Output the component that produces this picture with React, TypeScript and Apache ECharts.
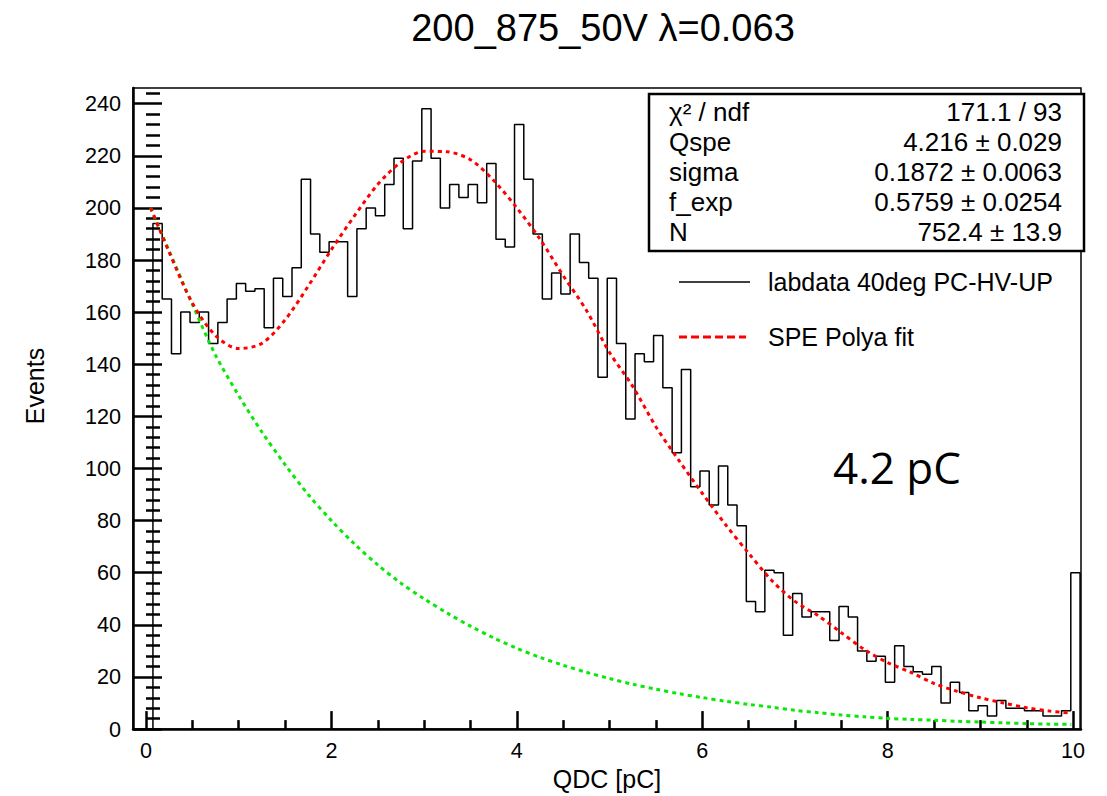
import { useEffect, useRef } from "react";
import * as echarts from "echarts";

// ---- data ----
const TITLE = "200_875_50V λ=0.063";
const X_TITLE = "QDC [pC]";
const Y_TITLE = "Events";
const NOTE = "4.2 pC";

// histogram binning (pC)
const BIN_START = 0.075;
const BIN_WIDTH = 0.1;
const COUNTS = [
  194, 165, 144, 160, 156, 160, 148, 156, 165, 171,
  168, 169, 154, 173, 166, 177, 211, 190, 183, 187,
  187, 166, 192, 200, 197, 209, 219, 192, 218, 238,
  219, 200, 209, 204, 209, 202, 217, 188, 185, 232,
  211, 190, 165, 175, 167, 190, 179, 173, 135, 173,
  148, 119, 144, 141, 151, 131, 106, 138, 93, 99,
  86, 101, 86, 78, 49, 45, 61, 60, 36, 52,
  43, 45, 45, 34, 47, 43, 30, 26, 28, 18,
  32, 24, 22, 21, 24, 10, 18, 14, 7, 9,
  5, 11, 8, 8, 7, 7, 5, 5, 7, 60,
];

// fit curves sampled along the charge axis
const FIT_X = [
  0.05, 0.25, 0.5, 0.75, 1, 1.25, 1.5, 1.75, 2, 2.25, 2.5, 2.75, 3, 3.25,
  3.5, 3.75, 4, 4.25, 4.5, 4.75, 5, 5.25, 5.5, 5.75, 6, 6.25, 6.5, 6.75, 7,
  7.25, 7.5, 7.75, 8, 8.25, 8.5, 8.75, 9, 9.25, 9.5, 9.75, 9.98,
];
const POLYA_FIT = [
  200, 183, 163.5, 151, 146, 148, 157, 170, 184, 197, 209, 217.5, 221.7,
  221.5, 218.5, 210.5, 200, 188, 174, 160.7, 144.5, 131.5, 116, 103, 90.5,
  78.5, 67.5, 57, 49, 43.5, 37, 30.5, 25.5, 21.8, 17.5, 14.5, 12, 10, 8.2,
  6.9, 6.1,
];
const EXP_PART = [
  200, 183.5, 163, 143.5, 128, 114, 101.5, 90, 80, 71, 63, 56, 50, 44.5,
  39.5, 35, 31, 27.5, 24.5, 21.8, 19.4, 17.2, 15.3, 13.6, 12.1, 10.7, 9.5,
  8.4, 7.2, 6.3, 5.4, 4.7, 4.1, 3.7, 3.4, 3.0, 2.7, 2.4, 2.1, 1.9, 1.8,
];

// axes
const X_MIN = -0.14;
const X_MAX = 10.085;
const Y_MIN = 0;
const Y_MAX = 246;
const X_MAJOR = [0, 2, 4, 6, 8, 10];
const X_MINOR = [0.5, 1, 1.5, 2.5, 3, 3.5, 4.5, 5, 5.5, 6.5, 7, 7.5, 8.5, 9, 9.5];
const Y_MAJOR = [0, 20, 40, 60, 80, 100, 120, 140, 160, 180, 200, 220, 240];
const Y_MINOR = [
  4, 8, 12, 16, 24, 28, 32, 36, 44, 48, 52, 56, 64, 68, 72, 76, 84, 88, 92, 96,
  104, 108, 112, 116, 124, 128, 132, 136, 144, 148, 152, 156, 164, 168, 172,
  176, 184, 188, 192, 196, 204, 208, 212, 216, 224, 228, 232, 236, 244,
];

// fit statistics
const STAT_NAMES = ["χ² / ndf", "Qspe", "sigma", "f_exp", "N"];
const STAT_VALUES = [
  "171.1 / 93",
  "4.216 ± 0.029",
  "0.1872 ± 0.0063",
  "0.5759 ± 0.0254",
  "752.4 ± 13.9",
];
const LEGEND_LABELS = ["labdata 40deg PC-HV-UP", "SPE Polya fit"];

const FONT = "'Liberation Sans', Arial, Helvetica, sans-serif";

function histogramOutline(): number[][] {
  const pts: number[][] = [[BIN_START, 0]];
  COUNTS.forEach((c, i) => {
    const lo = BIN_START + i * BIN_WIDTH;
    pts.push([lo, c], [lo + BIN_WIDTH, c]);
  });
  pts.push([BIN_START + COUNTS.length * BIN_WIDTH, 0]);
  return pts;
}

export default function App() {
  const ref = useRef<HTMLDivElement>(null);

  useEffect(() => {
    if (!ref.current) return;
    const chart = echarts.init(ref.current, undefined, { renderer: "svg" });

    const statTexts: any[] = [];
    STAT_NAMES.forEach((name, i) => {
      const y = 112 + i * 30;
      statTexts.push({
        type: "text",
        x: 669,
        y,
        style: { text: name, fontSize: 26, fontFamily: FONT, fill: "#000", align: "left", verticalAlign: "middle" },
      });
      statTexts.push({
        type: "text",
        x: 1062,
        y,
        style: { text: STAT_VALUES[i], fontSize: 26, fontFamily: FONT, fill: "#000", align: "right", verticalAlign: "middle" },
      });
    });

    const option: any = {
      animation: false,
      backgroundColor: "#fff",
      title: {
        text: TITLE,
        left: 603,
        top: 9,
        padding: 0,
        textAlign: "center",
        textStyle: { fontSize: 38, fontWeight: "normal", fontFamily: FONT, color: "#000" },
      },
      grid: {
        left: 133,
        right: 26,
        top: 88,
        bottom: 64,
        show: true,
        borderColor: "#000",
        borderWidth: 1.5,
        backgroundColor: "transparent",
      },
      xAxis: [
        {
          type: "value",
          min: X_MIN,
          max: X_MAX,
          position: "bottom",
          axisLine: { show: true, onZero: false, lineStyle: { color: "#000", width: 2.5 } },
          axisTick: { show: true, inside: true, length: 18, customValues: X_MAJOR, lineStyle: { color: "#000", width: 2.5 } },
          axisLabel: { show: true, customValues: X_MAJOR, color: "#000", fontSize: 21.6, fontFamily: FONT, margin: 10 },
          splitLine: { show: false },
          name: X_TITLE,
          nameLocation: "middle",
          nameGap: 30,
          nameTextStyle: { fontSize: 25, fontFamily: FONT, color: "#000" },
        },
        {
          type: "value",
          min: X_MIN,
          max: X_MAX,
          position: "bottom",
          offset: 0,
          axisLine: { show: false },
          axisTick: { show: true, inside: true, length: 9, customValues: X_MINOR, lineStyle: { color: "#000", width: 2.5 } },
          axisLabel: { show: false },
          splitLine: { show: false },
        },
      ],
      yAxis: [
        {
          type: "value",
          min: Y_MIN,
          max: Y_MAX,
          position: "left",
          axisLine: { show: true, onZero: false, lineStyle: { color: "#000", width: 2.5 } },
          axisTick: { show: true, inside: true, length: 29, customValues: Y_MAJOR, lineStyle: { color: "#000", width: 2.5 } },
          axisLabel: { show: true, customValues: Y_MAJOR, color: "#000", fontSize: 21.6, fontFamily: FONT, margin: 12 },
          splitLine: { show: false },
        },
        {
          type: "value",
          min: Y_MIN,
          max: Y_MAX,
          position: "left",
          offset: 0,
          axisLine: { show: false },
          axisTick: { show: true, inside: true, length: 14, customValues: Y_MINOR, lineStyle: { color: "#000", width: 2.5 } },
          axisLabel: { show: false },
          splitLine: { show: false },
        },
      ],
      series: [
        {
          name: LEGEND_LABELS[0],
          type: "line",
          xAxisIndex: 0,
          yAxisIndex: 0,
          data: histogramOutline(),
          showSymbol: false,
          symbol: "none",
          lineStyle: { color: "#000", width: 1.5 },
          z: 2,
        },
        {
          name: "exponential part",
          type: "line",
          xAxisIndex: 0,
          yAxisIndex: 0,
          data: FIT_X.map((x, i) => [x, EXP_PART[i]]),
          smooth: 0.3,
          showSymbol: false,
          symbol: "none",
          lineStyle: { color: "#0ae80a", width: 3, type: [4, 4] },
          z: 3,
        },
        {
          name: LEGEND_LABELS[1],
          type: "line",
          xAxisIndex: 0,
          yAxisIndex: 0,
          data: FIT_X.map((x, i) => [x, POLYA_FIT[i]]),
          smooth: 0.3,
          showSymbol: false,
          symbol: "none",
          lineStyle: { color: "#ff0000", width: 3, type: [4, 4] },
          z: 4,
        },
      ],
      graphic: [
        {
          type: "group",
          z: 100,
          children: [
            {
              type: "rect",
              shape: { x: 649, y: 94, width: 435, height: 157 },
              style: { fill: "#fff", stroke: "#000", lineWidth: 2.5 },
            },
            ...statTexts,
            {
              type: "line",
              shape: { x1: 679, y1: 282, x2: 750, y2: 282 },
              style: { stroke: "#000", lineWidth: 1.5 },
            },
            {
              type: "text",
              x: 768,
              y: 282,
              style: { text: LEGEND_LABELS[0], fontSize: 25, fontFamily: FONT, fill: "#000", verticalAlign: "middle" },
            },
            {
              type: "line",
              shape: { x1: 679, y1: 337, x2: 746, y2: 337 },
              style: { stroke: "#ff0000", lineWidth: 3, lineDash: [8, 4] },
            },
            {
              type: "text",
              x: 768,
              y: 337,
              style: { text: LEGEND_LABELS[1], fontSize: 25, fontFamily: FONT, fill: "#000", verticalAlign: "middle" },
            },
            {
              type: "text",
              x: 35,
              y: 386,
              rotation: Math.PI / 2,
              style: { text: Y_TITLE, fontSize: 25, fontFamily: FONT, fill: "#000", align: "center", verticalAlign: "middle" },
            },
            {
              type: "text",
              x: 833,
              y: 467,
              style: { text: NOTE, fontSize: 44, fontFamily: "'Open Sans', 'Noto Sans', sans-serif", fill: "#000", verticalAlign: "middle" },
            },
          ],
        },
      ],
    };

    chart.setOption(option);
    return () => chart.dispose();
  }, []);

  return (
    <div
      ref={ref}
      style={{ position: "fixed", left: 0, top: 0, width: 1107, height: 796, background: "#fff" }}
    />
  );
}
